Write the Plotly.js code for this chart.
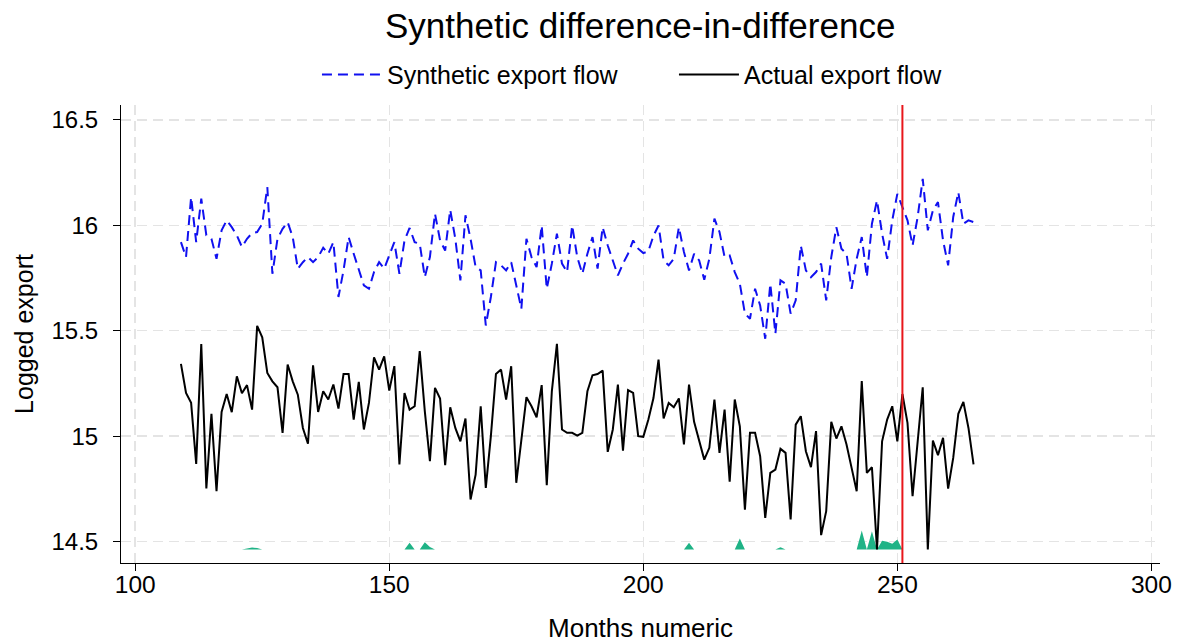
<!DOCTYPE html>
<html>
<head>
<meta charset="utf-8">
<script src="https://cdn.plot.ly/plotly-3.0.1.min.js"></script>
<style>html,body{margin:0;padding:0;background:#fff;}#chart{width:1179px;height:644px;}</style>
</head>
<body>
<div id="chart"></div>
<script>
// Months 109..265
const startMonth = 109;
const synthetic = [
15.92,15.849,16.133,15.92,16.126,15.952,15.936,15.841,15.976,16.023,
15.991,15.952,15.897,15.936,15.963,15.968,16.007,16.181,15.77,15.936,
15.983,16.015,15.944,15.794,15.825,15.849,15.825,15.849,15.893,15.865,
15.92,15.66,15.786,15.944,15.865,15.794,15.715,15.699,15.778,15.825,
15.794,15.857,15.92,15.77,15.928,15.987,15.92,15.912,15.754,15.849,
16.055,15.928,15.88,16.073,15.936,15.739,16.047,15.936,15.802,15.786,
15.525,15.66,15.825,15.81,15.786,15.825,15.715,15.604,15.936,15.849,
15.802,15.999,15.699,15.818,15.96,15.818,15.778,15.999,15.849,15.77,
15.865,15.944,15.794,15.991,15.904,15.833,15.762,15.818,15.865,15.928,
15.889,15.868,15.877,15.95,15.999,15.833,15.81,15.841,15.991,15.873,
15.786,15.865,15.833,15.742,15.841,16.031,15.968,15.849,15.857,15.778,
15.723,15.581,15.557,15.699,15.62,15.462,15.723,15.486,15.739,15.723,
15.581,15.644,15.904,15.786,15.754,15.778,15.818,15.644,15.849,15.991,
15.889,15.865,15.699,15.841,15.944,15.754,16.007,16.118,15.96,15.841,
16.023,16.149,16.086,16.023,15.904,16.039,16.22,15.976,16.07,16.11,
15.928,15.81,16.039,16.157,16.007,16.023,16.015
];
const actual = [
15.343,15.205,15.158,14.869,15.437,14.752,15.106,14.739,15.115,15.2,
15.114,15.284,15.204,15.242,15.126,15.523,15.469,15.3,15.26,15.232,
15.016,15.34,15.26,15.197,15.039,14.964,15.336,15.115,15.213,15.174,
15.245,15.131,15.295,15.295,15.079,15.258,15.032,15.158,15.374,15.316,
15.378,15.216,15.332,14.866,15.205,15.126,15.142,15.403,15.118,14.882,
15.229,15.179,14.863,15.137,15.039,14.976,15.084,14.7,14.818,15.142,
14.755,15.0,15.295,15.316,15.174,15.332,14.779,14.99,15.185,15.142,
15.09,15.242,14.768,15.213,15.438,15.032,15.016,15.016,15.003,15.016,
15.213,15.289,15.295,15.311,14.926,15.032,15.245,14.932,15.218,15.205,
15.0,14.997,15.079,15.181,15.363,15.084,15.158,15.137,15.179,14.961,
15.245,15.068,14.984,14.889,14.945,15.174,14.921,15.126,14.784,15.174,
15.047,14.652,15.016,15.016,14.905,14.613,14.826,14.842,14.94,14.921,
14.605,15.055,15.095,14.929,14.853,15.024,14.531,14.645,15.068,14.989,
15.047,14.961,14.85,14.739,15.261,14.826,14.853,14.463,14.976,15.079,
15.142,14.976,15.2,15.063,14.716,14.984,15.232,14.463,14.979,14.91,
14.992,14.752,14.897,15.106,15.163,15.039,14.866
];
// Weight area at the bottom (top edge), baseline value
const weightBase = 14.463;
const weightMonths = [117,122,123,124,154,157,158,166,209,219,227,233,243,245,247,248,249,250];
const weightTops   = [14.466,14.468,14.472,14.470,14.495,14.497,14.475,14.466,14.495,14.515,14.474,14.465,14.553,14.55,14.505,14.50,14.49,14.51];
const treatMonth = 251;

const months = synthetic.map((_, i) => startMonth + i);
const wTop = months.map(m => {
  const k = weightMonths.indexOf(m);
  return k >= 0 ? weightTops[k] : weightBase;
});
const wBase = months.map(() => weightBase);

const font = "Liberation Sans, Arial, sans-serif";
const traces = [
  {x: months, y: wBase, mode: 'lines', line: {width: 0, color: '#1fb386'}, showlegend: false, hoverinfo: 'skip'},
  {x: months, y: wTop, mode: 'lines', fill: 'tonexty', fillcolor: '#1fb386', line: {width: 0, color: '#1fb386'}, showlegend: false, hoverinfo: 'skip'},
  {x: months, y: synthetic, mode: 'lines', name: 'Synthetic export flow', line: {color: '#1010f0', width: 2, dash: '10px,6px'}},
  {x: months, y: actual, mode: 'lines', name: 'Actual export flow', line: {color: '#000000', width: 2}}
];

const layout = {
  width: 1179, height: 644,
  paper_bgcolor: '#ffffff', plot_bgcolor: '#ffffff',
  margin: {l: 121, r: 19, t: 105, b: 81},
  font: {family: font, color: '#000', size: 22},
  title: {text: 'Synthetic difference-in-difference', x: 0.543, xanchor: 'center', y: 0.96, yanchor: 'middle',
          font: {family: font, size: 35, color: '#000'}},
  showlegend: true,
  legend: {orientation: 'h', traceorder: 'normal', x: 0.1886, xanchor: 'left', y: 1.066, yanchor: 'middle',
           entrywidth: 282, entrywidthmode: 'pixels',
           font: {family: font, size: 25, color: '#000'}, itemwidth: 60, bgcolor: 'rgba(0,0,0,0)'},
  xaxis: {
    range: [97.2, 301.7], tickvals: [100, 150, 200, 250, 300], ticktext: ['100','150','200','250','300'],
    showline: true, linecolor: '#000', linewidth: 1, ticks: 'outside', ticklen: 7, tickcolor: '#000',
    ticklabelstandoff: -7,
    showgrid: true, gridcolor: '#e4e4e4', griddash: '10px,6px', gridwidth: 1.5, zeroline: false,
    tickfont: {family: font, size: 24.5, color: '#000'},
    title: {text: 'Months numeric', font: {family: font, size: 26, color: '#000'}, standoff: 21}
  },
  yaxis: {
    range: [14.399, 16.57], tickvals: [14.5, 15, 15.5, 16, 16.5], ticktext: ['14.5','15','15.5','16','16.5'],
    showline: true, linecolor: '#000', linewidth: 1, ticks: 'outside', ticklen: 7, tickcolor: '#000',
    ticklabelstandoff: 10,
    showgrid: true, gridcolor: '#e4e4e4', griddash: '10px,6px', gridwidth: 1.5, zeroline: false,
    tickfont: {family: font, size: 24, color: '#000'},
    title: {text: 'Logged export', font: {family: font, size: 25, color: '#000'}, standoff: 10}
  },
  shapes: [
    {type: 'line', xref: 'x', yref: 'paper', x0: treatMonth, x1: treatMonth, y0: 0, y1: 1,
     line: {color: '#e8161b', width: 2}}
  ]
};

Plotly.newPlot('chart', traces, layout, {staticPlot: true, displayModeBar: false});
</script>
</body>
</html>
